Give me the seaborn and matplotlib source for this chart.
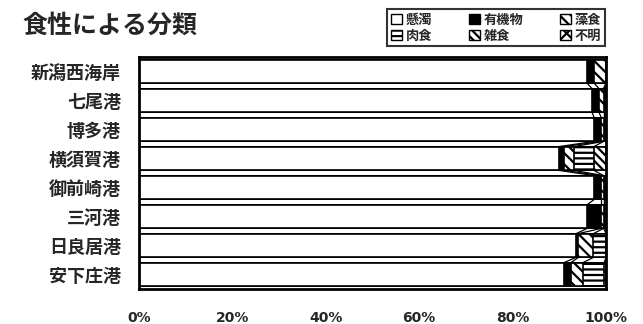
import matplotlib
matplotlib.use("Agg")
import matplotlib.pyplot as plt
import seaborn as sns
import numpy as np
import pandas as pd
from matplotlib.patches import Patch

sns.set_theme(style="white")
plt.rcParams['font.family'] = ['Noto Sans CJK JP', 'DejaVu Sans']
plt.rcParams['hatch.linewidth'] = 1.6

title = "食性による分類"
ports = ["新潟西海岸", "七尾港", "博多港", "横須賀港", "御前崎港", "三河港", "日良居港", "安下庄港"]
series = ["懸濁", "有機物", "藻食", "肉食", "雑食", "不明"]
suspension = [96.0, 97.0, 97.5, 89.9, 97.5, 96.0, 93.6, 91.0]
organic    = [1.5, 1.5, 1.5, 1.1, 1.5, 3.0, 0.5, 1.5]
algae      = [2.5, 1.0, 0.5, 2.1, 0.5, 0.5, 3.2, 2.6]
carnivore  = [0.0, 0.0, 0.0, 4.3, 0.0, 0.0, 2.7, 4.5]
omnivore   = [0.0, 0.5, 0.5, 2.6, 0.5, 0.5, 0.0, 0.4]
unknown    = [0.0, 0.0, 0.0, 0.0, 0.0, 0.0, 0.0, 0.0]
xticks = [0, 20, 40, 60, 80, 100]
xticklabels = ["0%", "20%", "40%", "60%", "80%", "100%"]

values = np.array([suspension, organic, algae, carnivore, omnivore, unknown])
cum = np.cumsum(values, axis=0)

faces = ["white", "black", "white", "white", "white", "white"]
hatches = [None, None, "\\\\\\", "---", "\\\\\\\\", "xx"]

fig = plt.figure(figsize=(6.43, 3.24), dpi=100)
ax = fig.add_axes([139/643, 1-289/324, (606-139)/643, (289-57)/324])

bw = 0.82
for k in range(len(series)-1, -1, -1):
    df = pd.DataFrame({"port": ports, "val": cum[k]})
    sns.barplot(data=df, x="val", y="port", orient="h", ax=ax, width=bw,
                color=faces[k], edgecolor="black", linewidth=1.2,
                hatch=hatches[k], saturation=1, errorbar=None)
    for p in ax.patches[-len(ports):]:
        p.set_facecolor(faces[k])
        p.set_hatch(hatches[k])

# series lines between bars
for k in range(len(series)-1):
    for i in range(len(ports)-1):
        ax.plot([cum[k][i], cum[k][i+1]], [i+bw/2, i+1-bw/2],
                color="black", lw=0.9)

ax.set_xlim(0, 100)
ax.set_ylim(len(ports)-0.5, -0.5)
ax.set_xticks(xticks)
ax.set_xticklabels(xticklabels, fontsize=10, fontweight="bold", family=['DejaVu Sans'])
ax.set_yticks(range(len(ports)))
ax.set_yticklabels(ports, fontsize=13, fontweight="bold")
ax.tick_params(axis="x", length=0, pad=16)
ax.tick_params(axis="y", length=0, pad=13)
ax.set_xlabel("")
ax.set_ylabel("")
for s in ax.spines.values():
    s.set_visible(True)
    s.set_color("black")
    s.set_linewidth(2)

fig.text(22/643, 1-26/324, title, fontsize=18, fontstyle="italic",
         fontweight="bold", va="center", ha="left")

order = [0, 3, 1, 4, 2, 5]
handles = [Patch(facecolor=faces[i], edgecolor="black", hatch=hatches[i], label=series[i]) for i in order]
leg = fig.legend(handles=handles, loc="upper right", bbox_to_anchor=(612/643, 1-2/324),
                 ncol=3, frameon=True, fancybox=False,
                 handlelength=0.8, handleheight=0.8, handletextpad=0.3,
                 columnspacing=2.8, labelspacing=0.15, borderpad=0.3,
                 prop={"weight": "bold", "size": 9.5})
leg.get_frame().set_edgecolor("black")
leg.get_frame().set_linewidth(1.5)

fig.savefig("out.png", dpi=100)
